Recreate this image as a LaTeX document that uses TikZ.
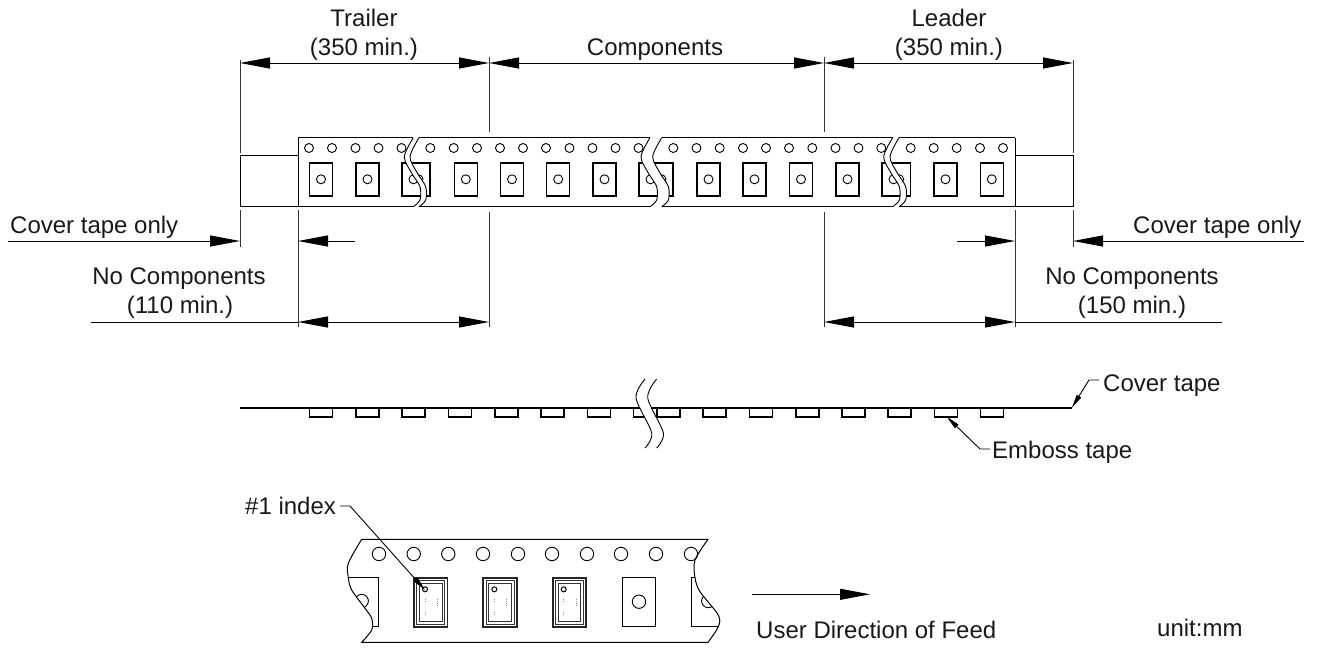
\documentclass[tikz,border=0pt]{standalone}
\usepackage{fontspec}
\setmainfont{Liberation Sans}
\usetikzlibrary{arrows.meta}
\tikzset{
  ln/.style={line width=1pt,black},
  ext/.style={line width=1pt,black!80},
  dim/.style={line width=1pt,black,{Triangle[length=30pt,width=11pt]}-{Triangle[length=30pt,width=11pt]}},
  dimr/.style={line width=1pt,black,-{Triangle[length=30pt,width=11pt]}},
  lead/.style={line width=.9pt,black,-{Triangle[length=14pt,width=5pt]}},
  txt/.style={font=\fontsize{24}{24}\selectfont,inner sep=0pt,anchor=base,text=black!90},
  txtl/.style={txt,anchor=base west},
  pocket/.style={line width=1.5pt,black},
  hole/.style={line width=.9pt,black,fill=white},
  wavy/.style={line width=.9pt,black},
}
\newcommand{\tapesec}[6]{%
  \begin{scope}
    \clip plot[smooth] coordinates {(#1,137.7) ({#1-9},156.7) ({#1-1.7},173) ({#1+6.7},186.7) ({#1+6.7},200) (#1,206.7)} -- plot[smooth] coordinates {(#2,206.7) ({#2+6.7},200) ({#2+6.7},186.7) ({#2-1.7},173) ({#2-9},156.7) (#2,137.7)} -- cycle;
    \foreach \h in {#4} \draw[hole] (\h,148) circle (4.5);
    \foreach \p in {#3} {
      \draw[pocket] (\p,163) rectangle ({\p+23},196);
      \draw[hole] ({\p+11.5},179.3) circle (4.5);
    }
  \end{scope}
  \draw[ln] (#5,137.7) -- (#6,137.7) (#5,206.7) -- (#6,206.7);
}
\newcommand{\wavedraw}[1]{\draw[wavy] plot[smooth] coordinates {(#1,137.7) ({#1-9},156.7) ({#1-1.7},173) ({#1+6.7},186.7) ({#1+6.7},200) (#1,206.7)};}
\newcommand{\comp}[1]{%
  \draw[line width=1.8pt,black!85] (#1,577.7) rectangle ({#1+33.5},626.7);
  \draw[line width=.8pt,black!80] ({#1+2.7},580.4) rectangle ({#1+30.8},624);
  \draw[line width=.8pt,black!80] ({#1+5.4},583) rectangle ({#1+28},621);
  \draw[line width=1pt,black,fill=white] ({#1+11},589.3) circle (2.5);
  \draw[line width=.7pt,black!45,dash pattern=on 1pt off 1pt] ({#1+11},599) -- ({#1+11},603) ({#1+11},612) -- ({#1+11},616) ({#1+23.5},599) -- ({#1+23.5},607);
}
\begin{document}
\begin{tikzpicture}[x=1pt,y=-1pt]
\useasboundingbox (0,0) rectangle (1318,653);
% named anchor points
\foreach \n/\x/\y in {
 tl/240/63, tm/489/63, tn/824/63, tr/1073/63,
 cl0/8/241, cl/240/241, nl/298/241, nl0/355/241,
 nr0/957/241, nr/1015/241, cr/1073/241, cr0/1304/241,
 bl0/91/322, bl/298/322, bm/489/322, bn/824/322, br/1015/322, br0/1222/322,
 e240a/240/60, e240b/240/153, e240c/240/210, e240d/240/247,
 e298c/298/210, e298d/298/327,
 e489a/489/57, e489b/489/132, e489c/489/212, e489d/489/327,
 e824a/824/57, e824b/824/132, e824c/824/212, e824d/824/327,
 e1015c/1015/210, e1015d/1015/327,
 e1073a/1073/60, e1073b/1073/153, e1073c/1073/210, e1073d/1073/247,
 ctA/1099/380, ctB/1089/380, ctC/1071.7/408,
 etA/990/449, etB/980/449, etC/946.7/416.7,
 ixA/340/506, ixB/350/506, ixC/425/590,
 fdA/752/594.3, fdB/870/594.3}
  \coordinate (\n) at (\x,\y);
% extension lines
\draw[ext] (e240a)--(e240b) (e240c)--(e240d) (e298c)--(e298d)
  (e489a)--(e489b) (e489c)--(e489d) (e824a)--(e824b) (e824c)--(e824d)
  (e1015c)--(e1015d) (e1073a)--(e1073b) (e1073c)--(e1073d);
% dimensions
\draw[dim] (tl)--(tm);
\draw[dim] (tm)--(tn);
\draw[dim] (tn)--(tr);
\draw[dimr] (cl0)--(cl);
\draw[dimr] (nl0)--(nl);
\draw[dimr] (nr0)--(nr);
\draw[dimr] (cr0)--(cr);
\draw[ln] (bl0)--(bl) (br)--(br0);
\draw[dim] (bl)--(bm);
\draw[dim] (bn)--(br);
% top view tape
\draw[ln] (298,155) -- (240,155) -- (240,206.7) -- (298,206.7);
\draw[ln] (1015,155) -- (1073,155) -- (1073,206.7) -- (1015,206.7);
\draw[ln] (298,137.7) -- (298,206.7);
\draw[ln] (1015,137.7) -- (1015,206.7);
\tapesec{250}{413.3}{309.5,356,402}{309,332,355.5,378.5,401.5}{298}{413.3}
\tapesec{419}{650}{407,454.3,500.5,546.7,593,639}{430.3,453.7,477,500,523,546,569.5,592.5,615.5,638.5}{419}{650}
\tapesec{661.7}{892.7}{650,697,743,789.5,836,882}{673.3,696.5,719.7,743,766,789,812.3,835.5,858.5,881.3}{661.7}{892.7}
\tapesec{899}{1100}{887.7,934,980.3}{910.7,933.7,956.7,980,1003}{899}{1015}
\foreach \x in {413.3,419,650,661.7,892.7,899}
  {\wavedraw{\x}}
% side view
\foreach \p in {309.5,355.8,402.1,448.4,494.7,541,587.3,633.6,656.7,703,749.3,795.7,842,888,934.3,980.3}
  \draw[line width=1.6pt,black] (\p,408) -- (\p,416.7) -- ({\p+23},416.7) -- ({\p+23},408);
\draw[line width=1.7pt,black] (240,407.7) -- (1072,407.7);
\draw[line width=2.4pt,black] (298,408) -- (1014,408);
\fill[white] plot[smooth] coordinates {(645,379) (636,398) (651.7,433) (645,448)} -- plot[smooth] coordinates {(656.7,448) (663.4,433) (647.7,398) (656.7,379)} -- cycle;
\draw[wavy] plot[smooth] coordinates {(645,379) (636,398) (651.7,433) (645,448)};
\draw[wavy] plot[smooth] coordinates {(656.7,379) (647.7,398) (663.4,433) (656.7,448)};
\draw[lead] (ctA)--(ctB)--(ctC);
\draw[lead] (etA)--(etB)--(etC);
% strip with index
\begin{scope}
  \clip plot[smooth] coordinates {(361.7,539.3) (348.3,563.3) (348.3,577.7) (351.7,590) (365,608.3) (371.7,618.3) (371.7,630) (361.7,642.3)} -- plot[smooth] coordinates {(708,642.3) (718.3,626.7) (718.3,615) (700,591.7) (695,577.7) (695,560) (708,539.3)} -- cycle;
  \draw[pocket] (340,577.7) -- (378.3,577.7) -- (378.3,626.7) -- (340,626.7);
  \draw[line width=.9pt,black] (361.7,601) circle (6.7);
  \draw[pocket] (730,577.7) -- (691.7,577.7) -- (691.7,626.7) -- (730,626.7);
  \draw[line width=.9pt,black] (708.3,601) circle (6.7);
\end{scope}
\draw[ln] plot[smooth] coordinates {(361.7,539.3) (348.3,563.3) (348.3,577.7) (351.7,590) (365,608.3) (371.7,618.3) (371.7,630) (361.7,642.3)} -- plot[smooth] coordinates {(708,642.3) (718.3,626.7) (718.3,615) (700,591.7) (695,577.7) (695,560) (708,539.3)} -- cycle;
\foreach \x in {379,413.7,448.3,483,518,552,587,621,656,691}
  \draw[line width=.9pt,black] (\x,554) circle (6.7);
\comp{414}\comp{483.3}\comp{552.7}
\draw[pocket] (622.3,577.7) rectangle (655.7,626.7);
\draw[line width=.9pt,black] (639,601.7) circle (6.7);
\draw[lead] (ixA)--(ixB)--(ixC);
\draw[dimr] (fdA)--(fdB);
% labels
\node[txt] (t1) at (364,26) {Trailer};
\node[txt] (t2) at (364,55) {(350 min.)};
\node[txt] (t3) at (655,55) {Components};
\node[txt] (t4) at (949,26) {Leader};
\node[txt] (t5) at (949,55) {(350 min.)};
\node[txtl] (t6) at (10,233) {Cover tape only};
\node[txtl] (t7) at (1133,233) {Cover tape only};
\node[txt] (t8) at (179,284) {No Components};
\node[txt] (t9) at (180,313) {(110 min.)};
\node[txt] (t10) at (1132,284) {No Components};
\node[txt] (t11) at (1132,313) {(150 min.)};
\node[txtl] (t12) at (1103,391) {Cover tape};
\node[txtl] (t13) at (992,458) {Emboss tape};
\node[txtl] (t14) at (245,514) {\#1 index};
\node[txtl] (t15) at (756,638) {User Direction of Feed};
\node[txtl] (t16) at (1157,636) {unit:mm};
\end{tikzpicture}
\end{document}
